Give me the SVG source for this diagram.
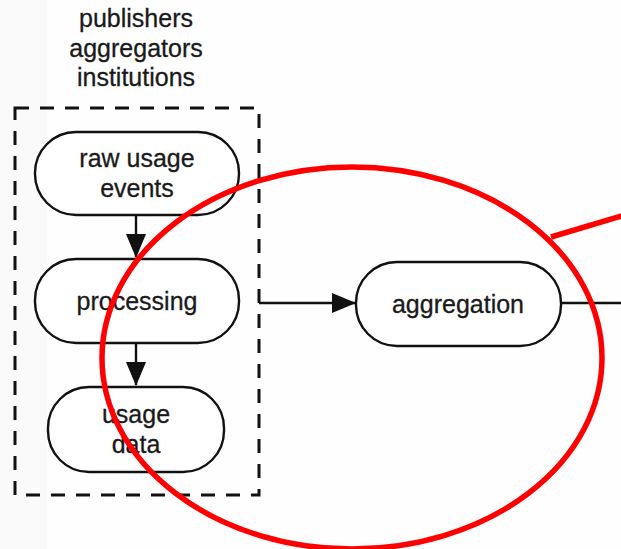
<svg xmlns="http://www.w3.org/2000/svg" width="621" height="549" viewBox="0 0 621 549">
  <style>
    .node { fill: #ffffff; stroke: #111111; stroke-width: 2.4; }
    .lbl { font-family: "Liberation Sans", Arial, Helvetica, sans-serif; font-size: 25px; fill: #1a1a1a; text-anchor: middle; stroke: #1a1a1a; stroke-width: 0.3; }
    .edge { stroke: #111111; stroke-width: 2.4; fill: none; }
    .group { fill: none; stroke: #111111; stroke-width: 3; stroke-dasharray: 14 11; }
    .mark { fill: none; stroke: #ff0000; stroke-width: 5.5; }
  </style>
  <defs>
    <marker id="arrow" markerWidth="24" markerHeight="20" refX="23" refY="10" orient="auto" markerUnits="userSpaceOnUse">
      <path d="M0,0 L24,10 L0,20 Z" fill="#111111"/>
    </marker>
  </defs>
  <rect x="0" y="0" width="621" height="549" fill="#fefefe"/>
  <rect x="0" y="0" width="47" height="549" fill="#fafafa"/>

  <g id="orgs">
    <text class="lbl" x="136" y="27">publishers</text>
    <text class="lbl" x="136" y="57">aggregators</text>
    <text class="lbl" x="136" y="86">institutions</text>
  </g>

  <g id="group-box">
    <rect class="group" x="15" y="108" width="244" height="387"/>
  </g>

  <g id="connectors">
    <line class="edge" x1="136" y1="215" x2="136" y2="257" marker-end="url(#arrow)"/>
    <line class="edge" x1="136" y1="343" x2="136" y2="385" marker-end="url(#arrow)"/>
    <line class="edge" x1="259" y1="303" x2="355" y2="303" marker-end="url(#arrow)"/>
    <line class="edge" x1="561" y1="303" x2="621" y2="303"/>
  </g>

  <g id="raw-usage-events">
    <rect class="node" x="35" y="132" width="204" height="83" rx="41" ry="41"/>
    <text class="lbl" x="137" y="167">raw usage</text>
    <text class="lbl" x="137" y="197">events</text>
  </g>

  <g id="processing">
    <rect class="node" x="35" y="259" width="204" height="84" rx="41" ry="41"/>
    <text class="lbl" x="137" y="310">processing</text>
  </g>

  <g id="usage-data">
    <rect class="node" x="48" y="387" width="176" height="85" rx="41" ry="41"/>
    <text class="lbl" x="136" y="423">usage</text>
    <text class="lbl" x="136" y="453">data</text>
  </g>

  <g id="aggregation">
    <rect class="node" x="356" y="262" width="205" height="84" rx="41" ry="41"/>
    <text class="lbl" x="458" y="313">aggregation</text>
  </g>

  <g id="annotation">
    <ellipse class="mark" cx="352" cy="358" rx="250" ry="191"/>
    <line class="mark" x1="551" y1="237" x2="625" y2="215"/>
  </g>
</svg>
